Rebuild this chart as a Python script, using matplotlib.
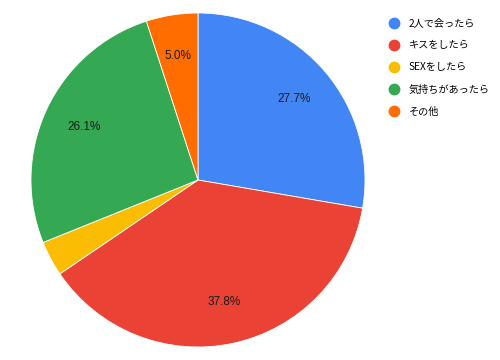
import matplotlib.pyplot as plt
from matplotlib.lines import Line2D

labels = ['2人で会ったら', 'キスをしたら', 'SEXをしたら', '気持ちがあったら', 'その他']
values = [27.7, 37.8, 3.4, 26.1, 5.0]
colors = ['#4285F4', '#EA4335', '#FBBC04', '#34A853', '#FF6D01']

plt.rcParams['font.family'] = ['Liberation Sans', 'Noto Sans CJK JP', 'DejaVu Sans']

fig = plt.figure(figsize=(5, 3.6), dpi=100)
ax = fig.add_axes([31 / 500, 13 / 360, 334 / 500, 334 / 360])

def fmt(p):
    # small slice has no label
    return '%.1f%%' % p if p > 4 else ''

wedges, texts, autotexts = ax.pie(values, colors=colors, startangle=90, counterclock=False,
                                  autopct=fmt, pctdistance=0.75, radius=1,
                                  wedgeprops=dict(edgecolor='white', linewidth=0.6),
                                  textprops=dict(fontsize=8.5, color='#1a1a1a'))
ax.set_xlim(-1, 1)
ax.set_ylim(-1, 1)
ax.set_aspect('equal')

handles = [Line2D([0], [0], marker='o', linestyle='', markersize=7.5,
                  markerfacecolor=c, markeredgecolor=c) for c in colors]
fig.legend(handles, labels, loc='upper left', bbox_to_anchor=(375 / 500, 1 - 9 / 360),
           frameon=False, handletextpad=0.4, labelspacing=1.2,
           prop={'family': ['Noto Sans CJK JP', 'DejaVu Sans'], 'size': 7.3})

fig.savefig('out.png', dpi=100)
